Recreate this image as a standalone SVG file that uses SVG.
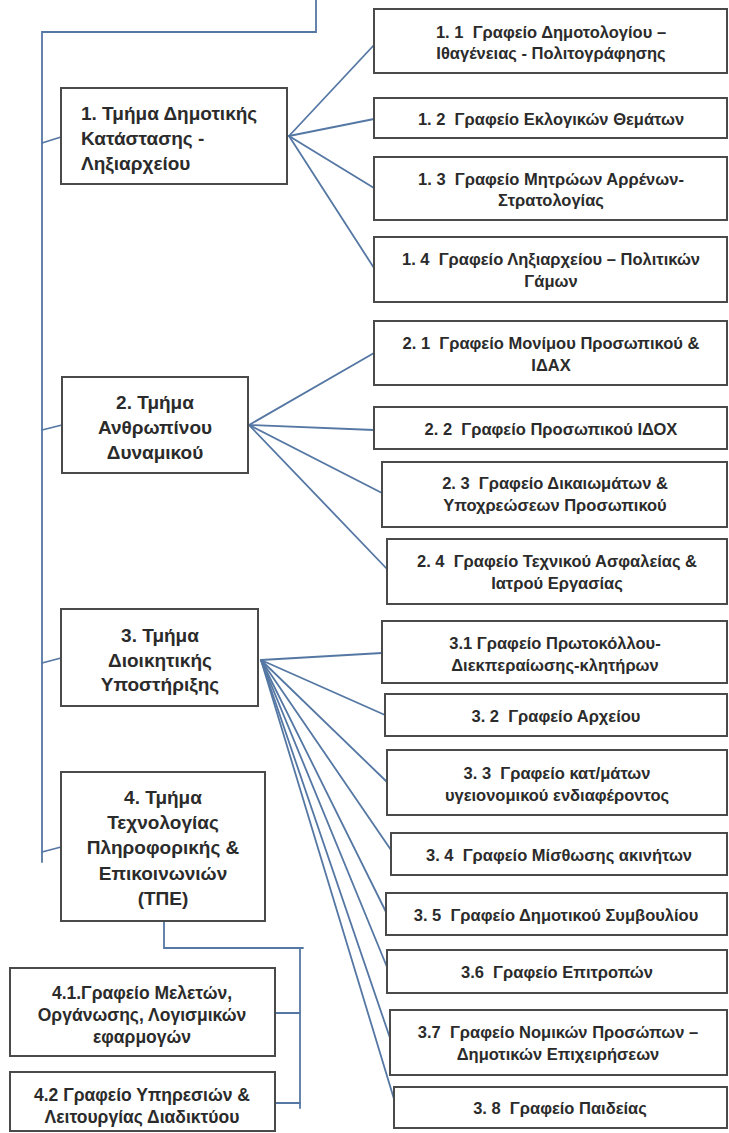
<svg xmlns="http://www.w3.org/2000/svg" width="729" height="1133" viewBox="0 0 729 1133">
<style>
.bg{fill:#ffffff}
.box{fill:#ffffff;stroke:#4a4a4a;stroke-width:2}
.ln{fill:none;stroke:#5577a3;stroke-width:1.8;stroke-linecap:round}
text{font-family:"Liberation Sans",Arial,sans-serif;font-weight:bold;fill:#2b2b2b;white-space:pre}
.s{font-size:16.5px;text-anchor:middle}
.d{font-size:19px;text-anchor:middle}
.dl{font-size:19px;text-anchor:start}
.f{font-size:17.5px;text-anchor:middle}
</style>
<rect class="bg" x="0" y="0" width="729" height="1133"/>
<g id="connectors">
<polyline class="ln" points="316,0 316,32 42,32 42,862"/>
<line class="ln" x1="42" y1="143" x2="61" y2="137"/>
<line class="ln" x1="42" y1="430" x2="62" y2="425"/>
<line class="ln" x1="42" y1="663" x2="61" y2="658"/>
<line class="ln" x1="42" y1="852" x2="61" y2="847"/>
<line class="ln" x1="289" y1="136" x2="374" y2="45"/>
<line class="ln" x1="289" y1="136" x2="374" y2="119"/>
<line class="ln" x1="289" y1="136" x2="374" y2="188"/>
<line class="ln" x1="289" y1="136" x2="374" y2="268"/>
<line class="ln" x1="249" y1="425" x2="374" y2="353"/>
<line class="ln" x1="249" y1="425" x2="374" y2="430"/>
<line class="ln" x1="249" y1="425" x2="382" y2="493"/>
<line class="ln" x1="249" y1="425" x2="387" y2="569"/>
<line class="ln" x1="261" y1="660" x2="382" y2="653"/>
<line class="ln" x1="261" y1="660" x2="385" y2="715"/>
<line class="ln" x1="261" y1="660" x2="387" y2="782"/>
<line class="ln" x1="261" y1="660" x2="391" y2="850"/>
<line class="ln" x1="261" y1="660" x2="386" y2="912"/>
<line class="ln" x1="261" y1="660" x2="387" y2="967"/>
<line class="ln" x1="261" y1="660" x2="390" y2="1038"/>
<line class="ln" x1="261" y1="660" x2="394" y2="1099"/>
<polyline class="ln" points="164,921 164,948 303,948"/>
<line class="ln" x1="300" y1="948" x2="300" y2="1108"/>
<line class="ln" x1="275" y1="1013" x2="300" y2="1013"/>
<line class="ln" x1="275" y1="1103" x2="300" y2="1103"/>
</g>
<g id="n1">
<rect class="box" x="61" y="88" width="226" height="96"/>
<text class="dl" x="81" y="120">1. Τμήμα Δημοτικής</text>
<text class="dl" x="81" y="145">Κατάστασης -</text>
<text class="dl" x="81" y="170">Ληξιαρχείου</text>
</g>
<g id="n1_1">
<rect class="box" x="374" y="9" width="353" height="64"/>
<text class="s" x="551" y="38">1. 1  Γραφείο Δημοτολογίου –</text>
<text class="s" x="551" y="59">Ιθαγένειας - Πολιτογράφησης</text>
</g>
<g id="n1_2">
<rect class="box" x="374" y="98" width="353" height="40"/>
<text class="s" x="551" y="125">1. 2  Γραφείο Εκλογικών Θεμάτων</text>
</g>
<g id="n1_3">
<rect class="box" x="374" y="157" width="353" height="63"/>
<text class="s" x="551" y="185">1. 3  Γραφείο Μητρώων Αρρένων-</text>
<text class="s" x="551" y="206">Στρατολογίας</text>
</g>
<g id="n1_4">
<rect class="box" x="374" y="237" width="353" height="65"/>
<text class="s" x="551" y="265">1. 4  Γραφείο Ληξιαρχείου – Πολιτικών</text>
<text class="s" x="551" y="287">Γάμων</text>
</g>
<g id="n2">
<rect class="box" x="62" y="377" width="186" height="96"/>
<text class="d" x="155" y="409">2. Τμήμα</text>
<text class="d" x="155" y="434">Ανθρωπίνου</text>
<text class="d" x="155" y="459">Δυναμικού</text>
</g>
<g id="n2_1">
<rect class="box" x="374" y="321" width="353" height="64"/>
<text class="s" x="551" y="349">2. 1  Γραφείο Μονίμου Προσωπικού &amp;</text>
<text class="s" x="551" y="371">ΙΔΑΧ</text>
</g>
<g id="n2_2">
<rect class="box" x="374" y="407" width="353" height="42"/>
<text class="s" x="551" y="435">2. 2  Γραφείο Προσωπικού ΙΔΟΧ</text>
</g>
<g id="n2_3">
<rect class="box" x="382" y="462" width="345" height="65"/>
<text class="s" x="555" y="489">2. 3  Γραφείο Δικαιωμάτων &amp;</text>
<text class="s" x="555" y="511">Υποχρεώσεων Προσωπικού</text>
</g>
<g id="n2_4">
<rect class="box" x="387" y="539" width="340" height="65"/>
<text class="s" x="557" y="567">2. 4  Γραφείο Τεχνικού Ασφαλείας &amp;</text>
<text class="s" x="557" y="589">Ιατρού Εργασίας</text>
</g>
<g id="n3">
<rect class="box" x="61" y="609" width="197" height="97"/>
<text class="d" x="160" y="642">3. Τμήμα</text>
<text class="d" x="160" y="667">Διοικητικής</text>
<text class="d" x="160" y="691">Υποστήριξης</text>
</g>
<g id="n3_1">
<rect class="box" x="382" y="621" width="345" height="62"/>
<text class="s" x="555" y="649">3.1 Γραφείο Πρωτοκόλλου-</text>
<text class="s" x="555" y="671">Διεκπεραίωσης-κλητήρων</text>
</g>
<g id="n3_2">
<rect class="box" x="385" y="694" width="342" height="42"/>
<text class="s" x="556" y="722">3. 2  Γραφείο Αρχείου</text>
</g>
<g id="n3_3">
<rect class="box" x="387" y="750" width="340" height="65"/>
<text class="s" x="557" y="779">3. 3  Γραφείο κατ/μάτων</text>
<text class="s" x="557" y="801">υγειονομικού ενδιαφέροντος</text>
</g>
<g id="n3_4">
<rect class="box" x="391" y="833" width="336" height="42"/>
<text class="s" x="559" y="861">3. 4  Γραφείο Μίσθωσης ακινήτων</text>
</g>
<g id="n3_5">
<rect class="box" x="386" y="893" width="341" height="42"/>
<text class="s" x="556" y="921">3. 5  Γραφείο Δημοτικού Συμβουλίου</text>
</g>
<g id="n3_6">
<rect class="box" x="387" y="950" width="340" height="43"/>
<text class="s" x="557" y="978">3.6  Γραφείο Επιτροπών</text>
</g>
<g id="n3_7">
<rect class="box" x="390" y="1010" width="337" height="65"/>
<text class="s" x="558" y="1038">3.7  Γραφείο Νομικών Προσώπων –</text>
<text class="s" x="558" y="1060">Δημοτικών Επιχειρήσεων</text>
</g>
<g id="n3_8">
<rect class="box" x="394" y="1087" width="333" height="41"/>
<text class="s" x="560" y="1114">3. 8  Γραφείο Παιδείας</text>
</g>
<g id="n4">
<rect class="box" x="61" y="772" width="204" height="149"/>
<text class="d" x="163" y="804">4. Τμήμα</text>
<text class="d" x="163" y="829">Τεχνολογίας</text>
<text class="d" x="163" y="854">Πληροφορικής &amp;</text>
<text class="d" x="163" y="880">Επικοινωνιών</text>
<text class="d" x="163" y="905">(ΤΠΕ)</text>
</g>
<g id="n4_1">
<rect class="box" x="10" y="968" width="265" height="88"/>
<text class="f" x="142" y="999">4.1.Γραφείο Μελετών,</text>
<text class="f" x="142" y="1021">Οργάνωσης, Λογισμικών</text>
<text class="f" x="142" y="1043">εφαρμογών</text>
</g>
<g id="n4_2">
<rect class="box" x="10" y="1072" width="265" height="59"/>
<text class="f" x="142" y="1101">4.2 Γραφείο Υπηρεσιών &amp;</text>
<text class="f" x="142" y="1123">Λειτουργίας Διαδικτύου</text>
</g>
</svg>
